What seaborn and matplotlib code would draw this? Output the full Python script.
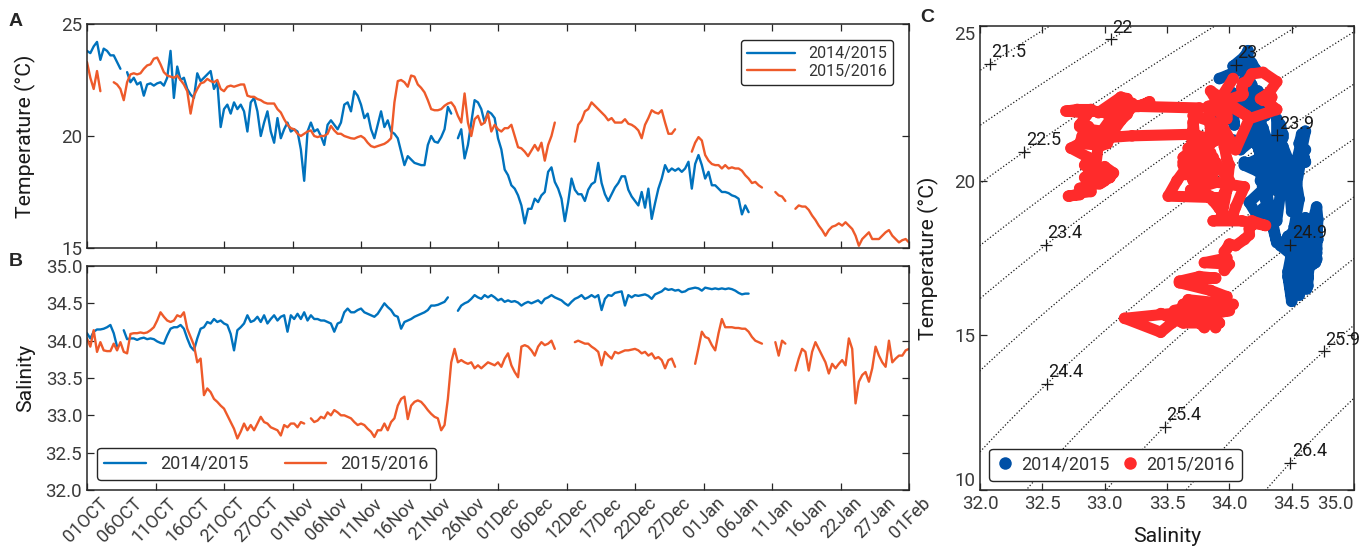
import numpy as np
import pandas as pd
import matplotlib
matplotlib.use("Agg")
import matplotlib.pyplot as plt
import matplotlib.transforms as mtransforms
from matplotlib.lines import Line2D
import seaborn as sns

nan = np.nan

# Mooring records, half-daily samples starting 1 October of each season
SAMPLE_STEP_DAYS = 0.5

temp_1415 = [
    23.8, 23.7, 24.0, 24.2, 23.4, 23.9, 23.8, 23.6, 23.6, 23.3,
    23.0, nan, 22.85, 22.4, 22.6, 22.3, 22.4, 21.8, 22.3, 22.35,
    22.25, 22.35, 22.4, 22.25, 22.6, 23.8, 21.7, 23.1, 22.5, 22.6,
    22.1, 21.85, 21.7, 22.8, 22.45, 22.6, 22.75, 22.9, 22.1, 22.4,
    20.4, 21.2, 21.4, 21.0, 21.5, 21.2, 21.4, 21.1, 20.2, 21.5,
    21.7, 21.1, 20.0, 20.6, 21.1, 20.2, 19.7, 20.8, 19.9, 20.3,
    20.6, 20.2, 20.3, 20.2, 19.4, 18.0, 20.2, 20.6, 20.2, 20.3,
    20.0, 19.6, 20.5, 20.7, 20.5, 20.3, 20.6, 21.4, 21.5, 21.1,
    22.0, 21.8, 21.4, 20.8, 21.0, 20.3, 19.9, 20.5, 21.1, 20.4,
    20.7, 20.2, 20.1, 19.9, 19.3, 18.7, 19.1, 18.95, 18.8, 18.75,
    18.7, 18.7, 19.6, 20.0, 19.75, 19.7, 19.95, 20.3, 21.3, 21.0,
    nan, 19.9, 20.3, 19.0, 19.6, 20.6, 21.6, 21.5, 21.2, 20.6,
    21.1, 21.0, 20.8, 19.9, 19.4, 18.5, 18.25, 17.8, 17.65, 17.35,
    16.9, 16.1, 16.75, 16.75, 17.2, 17.05, 17.35, 17.5, 18.4, 18.6,
    17.95, 17.65, 17.2, 16.2, 17.05, 18.1, 17.6, 17.4, 17.4, 17.1,
    17.6, 17.85, 17.95, 18.8, 17.9, 17.4, 17.1, 17.4, 17.7, 17.9,
    18.2, 18.2, 17.6, 17.3, 17.1, 16.9, 17.5, 16.8, 17.65, 16.3,
    17.0, 17.65, 18.1, 18.7, 18.4, 18.55, 18.45, 18.55, 18.4, 18.55,
    18.85, 17.65, 18.75, 19.15, 18.7, 18.1, 18.4, 17.8, 17.8, 17.65,
    17.5, 17.5, 17.45, 17.35, 17.3, 17.2, 16.5, 16.9, 16.6,
]

sal_1415 = [
    34.10, 34.03, 34.12, 34.15, 34.15, 34.16, 34.18, 34.21, 34.10, 33.92,
    nan, 34.14, 34.02, 34.03, 34.03, 34.01, 34.03, 34.04, 34.02, 34.03,
    34.02, 33.99, 33.97, 33.96, 34.07, 34.16, 34.18, 34.18, 34.21, 34.16,
    34.03, 33.92, 33.87, 34.03, 34.16, 34.18, 34.25, 34.23, 34.29, 34.25,
    34.27, 34.23, 34.21, 34.09, 33.87, 34.14, 34.18, 34.23, 34.34, 34.25,
    34.27, 34.32, 34.25, 34.34, 34.23, 34.29, 34.34, 34.27, 34.32, 34.34,
    34.12, 34.34, 34.29, 34.36, 34.29, 34.38, 34.27, 34.34, 34.29, 34.29,
    34.27, 34.27, 34.25, 34.23, 34.12, 34.23, 34.25, 34.38, 34.43, 34.38,
    34.38, 34.41, 34.43, 34.38, 34.36, 34.34, 34.32, 34.36, 34.43, 34.50,
    34.45, 34.41, 34.34, 34.32, 34.16, 34.25, 34.27, 34.29, 34.32, 34.34,
    34.36, 34.38, 34.41, 34.47, 34.47, 34.48, 34.50, 34.52, 34.58, nan,
    nan, 34.40, 34.47, 34.50, 34.52, 34.56, 34.61, 34.58, 34.56, 34.61,
    34.58, 34.61, 34.58, 34.54, 34.56, 34.52, 34.54, 34.52, 34.53, 34.51,
    34.47, 34.50, 34.52, 34.50, 34.52, 34.54, 34.50, 34.56, 34.58, 34.61,
    34.58, 34.56, 34.54, 34.50, 34.47, 34.52, 34.56, 34.58, 34.61, 34.56,
    34.58, 34.61, 34.58, 34.61, 34.41, 34.56, 34.61, 34.60, 34.64, 34.65,
    34.66, 34.47, 34.61, 34.58, 34.61, 34.60, 34.61, 34.62, 34.60, 34.56,
    34.62, 34.64, 34.66, 34.70, 34.68, 34.69, 34.67, 34.68, 34.65, 34.66,
    34.69, 34.70, 34.71, 34.70, 34.67, 34.71, 34.70, 34.69, 34.70, 34.69,
    34.70, 34.69, 34.70, 34.69, 34.67, 34.64, 34.62, 34.63, 34.63,
]

temp_1516 = [
    23.3, 22.6, 22.1, 22.9, 22.0, nan, nan, nan, 22.4, 22.3,
    22.1, 21.6, 22.4, 22.75, 22.8, 22.75, 22.8, 23.0, 23.15, 23.2,
    23.45, 23.5, 23.2, 22.85, 22.7, 22.65, 22.6, 22.7, 22.5, 22.3,
    22.0, 21.0, 21.8, 22.1, 22.35, 22.4, 22.55, 22.45, 22.4, 22.5,
    22.1, 22.0, 22.2, 22.25, 22.2, 22.25, 22.3, 22.3, 21.8, 21.75,
    21.75, 21.65, 21.6, 21.5, 21.45, 21.45, 21.45, 21.2, 21.05, 20.75,
    20.5, 20.35, 20.3, 20.1, 20.0, 20.1, 20.2, 20.25, 20.0, 19.95,
    20.0, 20.0, 20.1, 20.45, 20.25, 20.1, 20.1, 20.0, 19.95, 19.9,
    19.88, 19.95, 20.0, 19.9, 19.7, 19.55, 19.5, 19.55, 19.6, 19.65,
    19.75, 19.9, 21.5, 22.45, 22.5, 22.4, 22.2, 22.7, 22.65, 22.3,
    22.15, 21.95, 21.6, 21.2, 21.15, 21.15, 21.2, 21.35, 21.45, 21.5,
    21.3, 20.9, 20.6, 21.9, 20.6, 20.0, 20.75, 20.9, 20.5, 20.6,
    21.0, 20.2, 20.5, 20.3, 20.2, 20.35, 20.35, 20.5, 20.0, 19.5,
    19.45, 19.3, 19.1, 19.35, 19.6, 19.35, 19.7, 18.9, 19.6, 20.0,
    20.6, nan, nan, nan, nan, nan, 19.75, 20.5, 20.7, 21.1,
    21.2, 21.5, 21.35, 21.2, 21.05, 20.9, 20.7, 20.8, 20.6, 20.6,
    20.6, 20.75, 20.55, 20.5, 20.4, 20.25, 19.9, 20.5, 20.8, 21.15,
    21.05, 21.0, 21.15, 20.6, 20.1, 20.1, 20.3, nan, nan, nan,
    nan, 19.3, 19.7, 19.95, 19.8, 19.15, 18.9, 18.75, 18.7, 18.7,
    18.55, 18.7, 18.55, 18.6, 18.55, 18.55, 18.45, 18.25, 18.1, 17.9,
    17.95, 17.8, 17.7, nan, nan, nan, 17.5, 17.35, 17.3, 17.1,
    nan, nan, 16.75, 16.9, 16.85, 16.85, 16.7, 16.45, 16.25, 16.0,
    15.8, 15.55, 15.8, 15.95, 16.0, 16.1, 16.0, 16.15, 16.0, 15.85,
    15.55, 15.1, 15.4, 15.55, 15.7, 15.4, 15.4, 15.4, 15.55, 15.7,
    15.8, 15.55, 15.4, 15.25, 15.35, 15.4, 15.25,
]

sal_1516 = [
    34.03, 33.92, 34.14, 33.85, 33.98, 33.87, 33.86, 33.86, 33.96, 33.87,
    33.98, 33.85, 33.83, 34.09, 34.10, 34.10, 34.11, 34.10, 34.11, 34.14,
    34.18, 34.27, 34.38, 34.32, 34.27, 34.25, 34.27, 34.34, 34.32, 34.38,
    34.16, 34.05, 33.94, 33.71, 33.76, 33.27, 33.36, 33.31, 33.22, 33.18,
    33.13, 33.09, 33.00, 32.91, 32.82, 32.69, 32.78, 32.89, 32.80, 32.87,
    32.80, 32.89, 32.98, 32.91, 32.89, 32.84, 32.82, 32.80, 32.73, 32.87,
    32.84, 32.89, 32.89, 32.84, 32.91, 32.89, nan, 32.96, 32.91, 32.93,
    32.98, 32.96, 33.04, 33.00, 33.07, 33.04, 33.00, 33.00, 32.98, 32.96,
    32.91, 32.87, 32.89, 32.87, 32.82, 32.78, 32.71, 32.80, 32.80, 32.89,
    32.80, 32.91, 32.96, 33.13, 33.22, 33.25, 32.95, 33.13, 33.18, 33.20,
    33.18, 33.13, 33.07, 33.02, 32.98, 32.96, 32.80, 32.87, 33.22, 33.71,
    33.89, 33.71, 33.74, 33.71, 33.69, 33.71, 33.63, 33.67, 33.63, 33.67,
    33.71, 33.69, 33.67, 33.71, 33.65, 33.76, 33.83, 33.67, 33.58, 33.51,
    33.92, 33.94, 33.92, 33.87, 33.80, 33.92, 33.98, 33.94, 33.96, 34.00,
    33.89, nan, nan, nan, nan, nan, 33.98, 34.00, 33.98, 33.96,
    33.96, 33.92, 33.89, 33.85, 33.67, 33.85, 33.80, 33.76, 33.85, 33.83,
    33.85, 33.87, 33.87, 33.88, 33.89, 33.87, 33.83, 33.85, 33.80, 33.83,
    33.76, 33.78, 33.74, 33.63, 33.74, 33.76, 33.65, nan, nan, nan,
    nan, nan, 33.69, 33.90, 34.12, 34.05, 34.03, 33.94, 33.87, 34.10,
    34.29, 34.18, 34.18, 34.18, 34.17, 34.17, 34.16, 34.16, 34.12, 34.05,
    34.00, 33.98, 33.96, nan, nan, nan, 33.98, 33.80, 34.00, 33.96,
    nan, nan, 33.60, 33.76, 33.89, 33.85, 33.60, 33.85, 33.98, 33.89,
    33.80, 33.71, 33.56, 33.69, 33.63, 33.69, 33.74, 33.67, 34.03, 33.89,
    33.16, 33.45, 33.54, 33.58, 33.45, 33.63, 33.92, 33.80, 33.71, 33.65,
    34.00, 33.71, 33.76, 33.80, 33.80, 33.87, 33.89,
]

seasons = ["2014/2015", "2015/2016"]

# Date axis: 1 Oct -> 1 Feb (123 days)
date_labels = [
    "01OCT", "06OCT", "11OCT", "16OCT", "21OCT", "27OCT", "01Nov", "06Nov",
    "11Nov", "16Nov", "21Nov", "26Nov", "01Dec", "06Dec", "12Dec", "17Dec",
    "22Dec", "27Dec", "01Jan", "06Jan", "11Jan", "16Jan", "22Jan", "27Jan",
    "01Feb",
]
DAY_SPAN = 123

# Isopycnals (sigma-t) and the salinity at which each one is labelled
isopycnal_levels = [21.5, 22, 22.5, 23, 23.4, 23.9, 24.4, 24.9, 25.4, 25.9, 26.4]
label_salinity = [32.08, 33.05, 32.355, 34.05, 32.53, 34.385, 32.535, 34.49,
                  33.48, 34.76, 34.49]

line_colors = ["#0072BD", "#EE5A2A"]
dot_colors = ["#0050A6", "#FF2B2B"]


def sigma_t(S, T):
    """UNESCO (1980) sea-water density anomaly at the surface, kg m-3."""
    rho_w = (999.842594 + 6.793952e-2 * T - 9.095290e-3 * T**2
             + 1.001685e-4 * T**3 - 1.120083e-6 * T**4 + 6.536332e-9 * T**5)
    A = (8.24493e-1 - 4.0899e-3 * T + 7.6438e-5 * T**2
         - 8.2467e-7 * T**3 + 5.3875e-9 * T**4)
    B = -5.72466e-3 + 1.0227e-4 * T - 1.6546e-6 * T**2
    C = 4.8314e-4
    return rho_w + A * S + B * S**1.5 + C * S**2 - 1000.0


def season_frame(temp, sal, name):
    days = np.arange(len(temp)) * SAMPLE_STEP_DAYS
    return pd.DataFrame({"day": days, "temp": temp, "sal": sal, "season": name})


def with_pieces(df, cols):
    """Split a record into unbroken pieces at missing samples."""
    part = df.copy()
    part["piece"] = part[cols].isna().any(axis=1).cumsum()
    return part.dropna(subset=cols)


frames = [season_frame(temp_1415, sal_1415, seasons[0]),
          season_frame(temp_1516, sal_1516, seasons[1])]

sns.set_theme(style="white")
plt.rcParams["font.family"] = ["Roboto", "DejaVu Sans"]
plt.rcParams["axes.unicode_minus"] = False

W, H = 1369, 550
fig = plt.figure(figsize=(W / 100, H / 100), dpi=100)
axA = fig.add_axes([87 / W, 1 - 248 / H, 822 / W, 224 / H])
axB = fig.add_axes([87 / W, 1 - 490 / H, 822 / W, 224 / H])
axC = fig.add_axes([980 / W, 1 - 490 / H, 374 / W, 464 / H])

TICK_COLOR = "#3a3a3a"
LABEL_COLOR = "#1a1a1a"
EDGE = "#262626"
TICK_SIZE = 13.5
DATE_SIZE = 13
LABEL_SIZE = 15.3

for df, color in zip(frames, line_colors):
    for ax, col in ((axA, "temp"), (axB, "sal")):
        sns.lineplot(data=with_pieces(df, [col]), x="day", y=col, units="piece",
                     estimator=None, sort=False, color=color, linewidth=1.7,
                     ax=ax, legend=False)

major_days = np.linspace(0, DAY_SPAN, 13)
label_days = np.linspace(0, DAY_SPAN, len(date_labels))

for ax in (axA, axB):
    ax.set_xlim(0, DAY_SPAN)
    ax.set_xticks(major_days)
    ax.set_xticklabels([])
    ax.set_xlabel("")

axB.xaxis.remove_overlapping_locs = False
axB.set_xticks(label_days, minor=True)
axB.set_xticklabels(date_labels, minor=True, rotation=45, ha="right",
                    rotation_mode="anchor", fontsize=DATE_SIZE, color=TICK_COLOR)
axB.tick_params(axis="x", which="minor", length=0, pad=3)
date_shift = mtransforms.ScaledTranslation(12 / 100, 0, fig.dpi_scale_trans)
for lab in axB.get_xticklabels(minor=True):
    lab.set_transform(lab.get_transform() + date_shift)

axA.set_ylim(15, 25)
axA.set_yticks([15, 20, 25])
axA.set_ylabel("Temperature (°C)", fontsize=LABEL_SIZE, color=LABEL_COLOR)
axA.yaxis.set_label_coords(-0.062, 0.5)

sal_ticks = np.arange(32, 35.01, 0.5)
axB.set_ylim(32, 35)
axB.set_yticks(sal_ticks)
axB.set_yticklabels([f"{v:.1f}" for v in sal_ticks])
axB.set_ylabel("Salinity", fontsize=LABEL_SIZE, color=LABEL_COLOR)
axB.yaxis.set_label_coords(-0.063, 0.5)

# T-S diagram with sigma-t isopycnals
s_grid = np.linspace(31.8, 35.2, 240)
t_grid = np.linspace(9.0, 26.0, 240)
SS, TT = np.meshgrid(s_grid, t_grid)
axC.contour(SS, TT, sigma_t(SS, TT), levels=isopycnal_levels, colors="k",
            linestyles=":", linewidths=0.9)

for df, color in zip(frames, dot_colors):
    ts = with_pieces(df, ["temp", "sal"])
    # the T-S trajectory between successive samples, then the samples themselves
    sns.lineplot(data=ts, x="sal", y="temp", units="piece", estimator=None,
                 sort=False, color=color, linewidth=8.0, solid_capstyle="round",
                 solid_joinstyle="round", ax=axC, legend=False, zorder=3)
    sns.scatterplot(data=ts, x="sal", y="temp", color=color, s=70, linewidth=0,
                    edgecolor="none", ax=axC, legend=False, zorder=3)

t_line = np.linspace(5.0, 30.0, 5001)
for level, s0 in zip(isopycnal_levels, label_salinity):
    sig = sigma_t(s0, t_line)
    t0 = np.interp(level, sig[::-1], t_line[::-1])
    axC.plot([s0], [t0], marker="+", color="k", ms=9, mew=0.9, zorder=4)
    axC.annotate(f"{level:g}", (s0, t0), xytext=(1, 2), textcoords="offset points",
                 ha="left", va="bottom", fontsize=13, color="k", zorder=4)

axC.set_xlim(32, 35)
axC.set_ylim(10, 25)
axC.set_xticks(sal_ticks)
axC.set_xticklabels([f"{v:.1f}" for v in sal_ticks])
axC.set_yticks([10, 15, 20, 25])
axC.set_xlabel("Salinity", fontsize=LABEL_SIZE, color=LABEL_COLOR)
axC.set_ylabel("Temperature (°C)", fontsize=LABEL_SIZE, color=LABEL_COLOR)
axC.yaxis.set_label_coords(-0.11, 0.5)
axC.xaxis.set_label_coords(0.5, -0.08)

for ax in (axA, axB, axC):
    ax.tick_params(which="major", direction="in", length=5, width=0.9,
                   top=True, right=True, bottom=True, left=True,
                   color=EDGE, labelsize=TICK_SIZE, labelcolor=TICK_COLOR)
    for sp in ax.spines.values():
        sp.set_color(EDGE)
        sp.set_linewidth(1.1)

# keep the end labels of the T-S axes inside the frame
c_ylabels = axC.get_yticklabels()
c_ylabels[0].set_verticalalignment("bottom")
c_ylabels[-1].set_verticalalignment("top")
axC.get_xticklabels()[-1].set_horizontalalignment("right")

legend_frame = dict(frameon=True, fancybox=True, framealpha=1, edgecolor=EDGE)

line_handles = [Line2D([], [], color=c, lw=1.7) for c in line_colors]
legA = axA.legend(line_handles, seasons, loc="upper right", fontsize=11.5,
                  handlelength=3.0, borderaxespad=1.0, labelspacing=0.15,
                  **legend_frame)
legB = axB.legend(line_handles, seasons, loc="lower left", ncol=2, fontsize=13,
                  handlelength=2.3, columnspacing=2.0, borderaxespad=0.55,
                  **legend_frame)
dot_handles = [Line2D([], [], ls="", marker="o", ms=9, color=c,
                      markeredgewidth=0) for c in dot_colors]
legC = axC.legend(dot_handles, seasons, loc="lower left", ncol=2, fontsize=13,
                  handlelength=1.0, handletextpad=0.4, columnspacing=0.6,
                  borderaxespad=0.5, **legend_frame)
for leg in (legA, legB, legC):
    leg.get_frame().set_linewidth(1.0)
    for txt in leg.get_texts():
        txt.set_color("#333333")

for letter, (x, y) in zip("ABC", [(16, 21), (16, 261), (927, 18)]):
    fig.text(x / W, 1 - y / H, letter, ha="center", va="center", fontsize=14,
             fontweight="bold", family=["Liberation Sans", "DejaVu Sans"])

fig.savefig("out.png", dpi=100)
